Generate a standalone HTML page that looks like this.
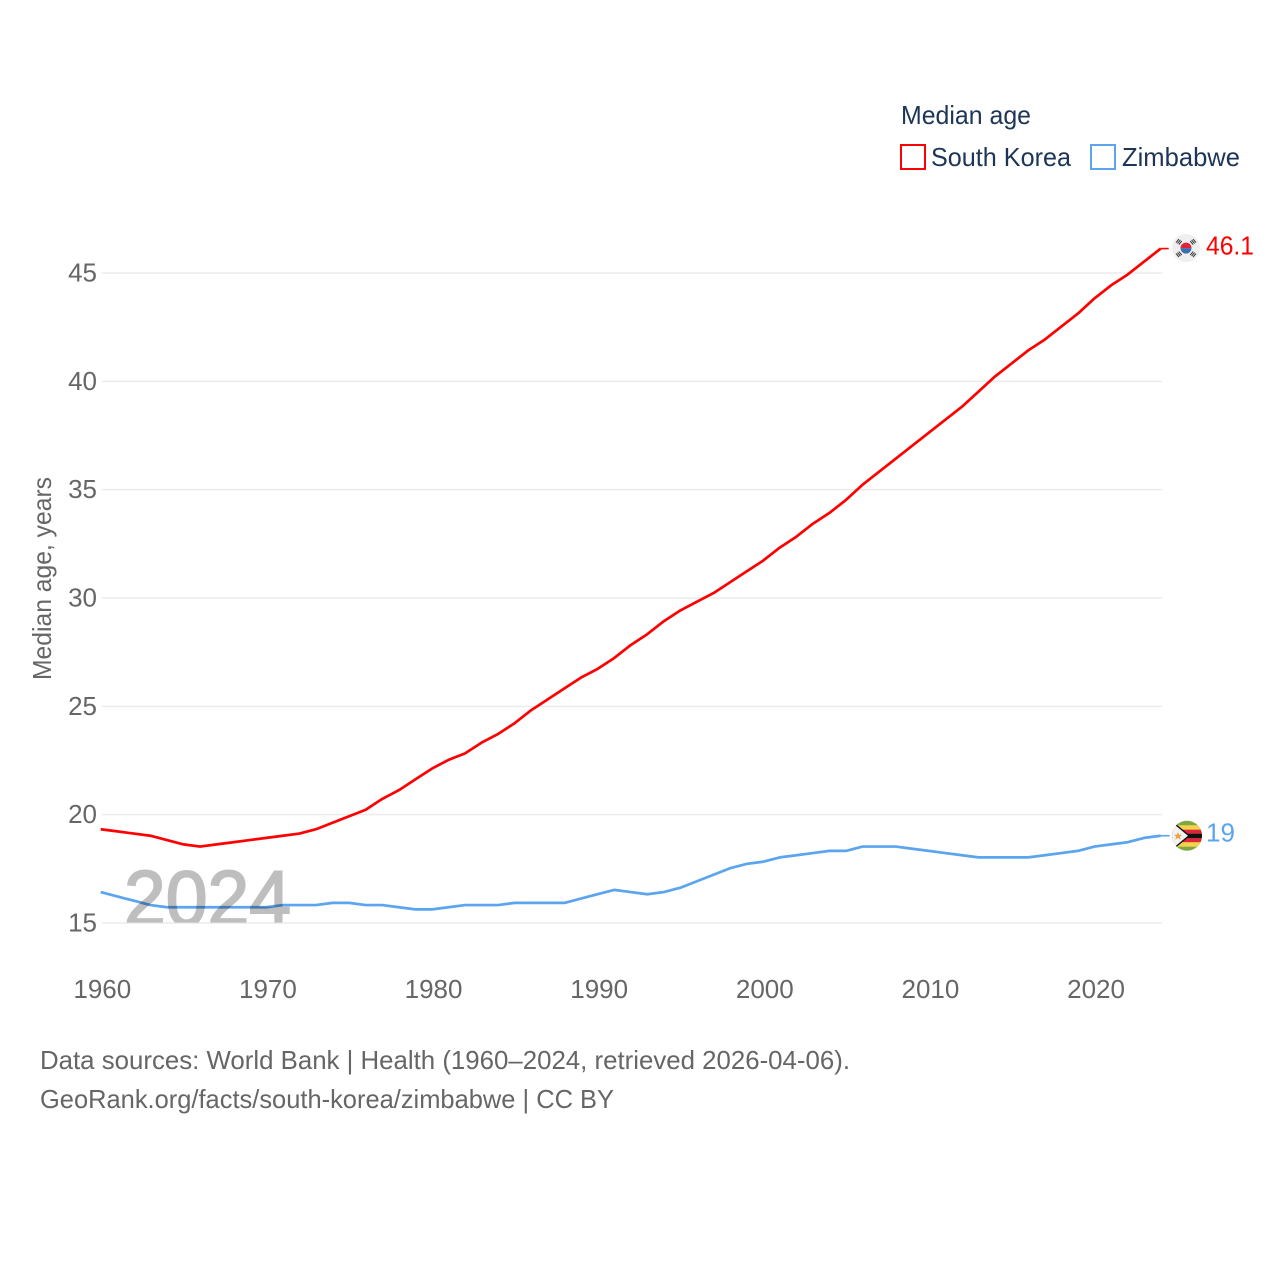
<!DOCTYPE html>
<html lang="en">
<head>
<meta charset="utf-8">
<title>Median age: South Korea and Zimbabwe</title>
<style>
html,body{margin:0;padding:0;background:#fff;width:1280px;height:1280px;overflow:hidden}
svg{display:block}
text{font-family:"Liberation Sans",sans-serif;font-size:26px}
.muted{fill:#666}
.legend{fill:#1d3557}
</style>
</head>
<body>
<svg id="chart" xmlns="http://www.w3.org/2000/svg" width="1280" height="1280" viewBox="0 0 1280 1280">
<defs>
<clipPath id="kr-clip"><circle cx="0" cy="0" r="14"/></clipPath>
<clipPath id="zw-clip"><circle cx="0" cy="0" r="15"/></clipPath>
<clipPath id="wm-clip"><rect x="100" y="850" width="220" height="72.5"/></clipPath>
</defs>
<rect width="1280" height="1280" fill="#fff"/>
<g id="grid"></g>
<g id="yticks"></g>
<g id="xticks"></g>
<text class="muted" transform="translate(51 680) rotate(-90)" textLength="203" lengthAdjust="spacingAndGlyphs">Median age, years</text>
<g id="series"></g>
<g clip-path="url(#wm-clip)" opacity="0.25">
<text x="124" y="925" fill="#000" stroke="#000" stroke-width="2" style="font-size:78px" textLength="167" lengthAdjust="spacingAndGlyphs">2024</text>
</g>
<g id="ends"></g>

<g>
<text class="legend" x="901" y="124" textLength="130" lengthAdjust="spacingAndGlyphs">Median age</text>
<g>
<rect x="901" y="145" width="24" height="24" fill="none" stroke="#ff0000" stroke-width="2"/>
<text class="legend" x="931" y="166" textLength="140" lengthAdjust="spacingAndGlyphs">South Korea</text>
</g>
<g>
<rect x="1091" y="145" width="24" height="24" fill="none" stroke="#5ba4ee" stroke-width="2"/>
<text class="legend" x="1122" y="166" textLength="118" lengthAdjust="spacingAndGlyphs">Zimbabwe</text>
</g>
</g>

<text class="muted" x="40" y="1069" textLength="810" lengthAdjust="spacingAndGlyphs">Data sources: World Bank | Health (1960–2024, retrieved 2026-04-06).</text>
<text class="muted" x="40" y="1108" textLength="574" lengthAdjust="spacingAndGlyphs">GeoRank.org/facts/south-korea/zimbabwe | CC BY</text>
</svg>
<script>
const years = [1960,1961,1962,1963,1964,1965,1966,1967,1968,1969,1970,1971,1972,1973,1974,1975,1976,1977,1978,1979,1980,1981,1982,1983,1984,1985,1986,1987,1988,1989,1990,1991,1992,1993,1994,1995,1996,1997,1998,1999,2000,2001,2002,2003,2004,2005,2006,2007,2008,2009,2010,2011,2012,2013,2014,2015,2016,2017,2018,2019,2020,2021,2022,2023,2024];
const southKorea = [19.3,19.2,19.1,19.0,18.8,18.6,18.5,18.6,18.7,18.8,18.9,19.0,19.1,19.3,19.6,19.9,20.2,20.7,21.1,21.6,22.1,22.5,22.8,23.3,23.7,24.2,24.8,25.3,25.8,26.3,26.7,27.2,27.8,28.3,28.9,29.4,29.8,30.2,30.7,31.2,31.7,32.3,32.8,33.4,33.9,34.5,35.2,35.8,36.4,37.0,37.6,38.2,38.8,39.5,40.2,40.8,41.4,41.9,42.5,43.1,43.8,44.4,44.9,45.5,46.1];
const zimbabwe = [16.4,16.2,16.0,15.8,15.7,15.7,15.7,15.7,15.7,15.7,15.7,15.8,15.8,15.8,15.9,15.9,15.8,15.8,15.7,15.6,15.6,15.7,15.8,15.8,15.8,15.9,15.9,15.9,15.9,16.1,16.3,16.5,16.4,16.3,16.4,16.6,16.9,17.2,17.5,17.7,17.8,18.0,18.1,18.2,18.3,18.3,18.5,18.5,18.5,18.4,18.3,18.2,18.1,18.0,18.0,18.0,18.0,18.1,18.2,18.3,18.5,18.6,18.7,18.9,19.0];
const yTickLabels = [15,20,25,30,35,40,45];
const xTickLabels = [1960,1970,1980,1990,2000,2010,2020];
const NS = 'http://www.w3.org/2000/svg';
const xScale = function (year) { return 102 + (year - 1960) * (1060 / 64); };
const yScale = function (value) { return 923 - (value - 15) * (650 / 30); };
const markX = function (year) { return xScale(year) - 1.3; };
const markY = function (value) { return yScale(value) - 0.6; };
function make(tag, parent) {
  const el = document.createElementNS(NS, tag);
  parent.appendChild(el);
  return el;
}
const gridGroup = document.getElementById('grid');
const yGroup = document.getElementById('yticks');
const xGroup = document.getElementById('xticks');
const seriesGroup = document.getElementById('series');
const endsGroup = document.getElementById('ends');

yTickLabels.forEach(function (tick) {
  const line = make('line', gridGroup);
  
  
  line.setAttribute('x1', 102);
  line.setAttribute('x2', 1162);
  line.setAttribute('y1', yScale(tick));
  line.setAttribute('y2', yScale(tick));
  line.setAttribute('stroke', '#ebebeb');
  line.setAttribute('stroke-width', 1.5);
  const label = make('text', yGroup);
  
  
  label.setAttribute('class', 'muted');
  label.setAttribute('x', 97);
  label.setAttribute('y', yScale(tick) + 8.5);
  label.setAttribute('text-anchor', 'end');
  label.textContent = tick;
});

xTickLabels.forEach(function (tick) {
  const label = make('text', xGroup);
  
  
  label.setAttribute('class', 'muted');
  label.setAttribute('x', xScale(tick) + 0.3);
  label.setAttribute('y', 998);
  label.setAttribute('text-anchor', 'middle');
  label.textContent = tick;
});

function linePoints(values) {
  return values.map(function (v, i) {
    return markX(years[i]).toFixed(2) + ',' + markY(v).toFixed(2);
  }).join(' ');
}

const zwLine = make('polyline', seriesGroup);


zwLine.setAttribute('points', linePoints(zimbabwe));
zwLine.setAttribute('fill', 'none');
zwLine.setAttribute('stroke', '#5ba4ee');
zwLine.setAttribute('stroke-width', 2.7);
zwLine.setAttribute('stroke-linejoin', 'round');

const krLine = make('polyline', seriesGroup);


krLine.setAttribute('points', linePoints(southKorea));
krLine.setAttribute('fill', 'none');
krLine.setAttribute('stroke', '#ff0000');
krLine.setAttribute('stroke-width', 2.7);
krLine.setAttribute('stroke-linejoin', 'round');

const lastX = markX(years[years.length - 1]);
const krY = markY(southKorea[southKorea.length - 1]);
const zwY = markY(zimbabwe[zimbabwe.length - 1]);

const krStub = make('line', endsGroup);


krStub.setAttribute('x1', lastX);
krStub.setAttribute('x2', lastX + 8);
krStub.setAttribute('y1', krY);
krStub.setAttribute('y2', krY);
krStub.setAttribute('stroke', '#ff0000');
krStub.setAttribute('stroke-width', 1.6);

const zwStub = make('line', endsGroup);


zwStub.setAttribute('x1', lastX);
zwStub.setAttribute('x2', lastX + 9);
zwStub.setAttribute('y1', zwY);
zwStub.setAttribute('y2', zwY);
zwStub.setAttribute('stroke', '#5ba4ee');
zwStub.setAttribute('stroke-width', 1.6);

const krFlag = make('g', endsGroup);


krFlag.setAttribute('transform', 'translate(1186 ' + (krY - 0.5) + ')');
krFlag.innerHTML = '<g clip-path="url(#kr-clip)"><rect x="-15" y="-15" width="30" height="30" fill="#efefef"/>' +
  '<path d="M-5.5 0A5.5 5.5 0 0 1 5.5 0Z" fill="#e0243b"/><path d="M-5.5 0A5.5 5.5 0 0 0 5.5 0Z" fill="#3c6fb0"/>' +
  '<g stroke="#333" stroke-width="1" fill="none">' +
  '<path d="M-10 -5.5l3 -3.5M-8.6 -4.5l3 -3.5M-7.2 -3.5l3 -3.5"/><path d="M10 -5.5l-3 -3.5M8.6 -4.5l-3 -3.5M7.2 -3.5l-3 -3.5"/>' +
  '<path d="M-10 5.5l3 3.5M-8.6 4.5l3 3.5M-7.2 3.5l3 3.5"/><path d="M10 5.5l-3 3.5M8.6 4.5l-3 3.5M7.2 3.5l-3 3.5"/></g></g>';

const zwFlag = make('g', endsGroup);


zwFlag.setAttribute('transform', 'translate(1187 ' + zwY + ')');
zwFlag.innerHTML = '<g clip-path="url(#zw-clip)"><rect x="-16" y="-16" width="32" height="32" fill="#7fa845"/>' +
  '<rect x="-16" y="-10.5" width="32" height="4.5" fill="#f6d24a"/><rect x="-16" y="-6" width="32" height="4" fill="#e0243b"/>' +
  '<rect x="-16" y="-2" width="32" height="4.5" fill="#111"/><rect x="-16" y="2.5" width="32" height="4" fill="#e0243b"/>' +
  '<rect x="-16" y="6.5" width="32" height="4.5" fill="#f6d24a"/>' +
  '<path d="M-16 -15L2 0L-16 15Z" fill="#f2f2f2" stroke="#111" stroke-width="1.4"/>' +
  '<path d="M-9 -3.5L-7.8 -1L-5 -1L-7.2 1L-6.2 4L-9 2.2L-11.8 4L-10.8 1L-13 -1L-10.2 -1Z" fill="#f0a040"/></g>';

const krValue = make('text', endsGroup);


krValue.setAttribute('x', 1206);
krValue.setAttribute('y', krY + 6);
krValue.setAttribute('fill', '#ff0000');
krValue.setAttribute('textLength', 48);
krValue.setAttribute('lengthAdjust', 'spacingAndGlyphs');
krValue.textContent = southKorea[southKorea.length - 1];

const zwValue = make('text', endsGroup);


zwValue.setAttribute('x', 1206);
zwValue.setAttribute('y', zwY + 6);
zwValue.setAttribute('fill', '#5ba4ee');
zwValue.textContent = zimbabwe[zimbabwe.length - 1];
</script>
</body>
</html>
